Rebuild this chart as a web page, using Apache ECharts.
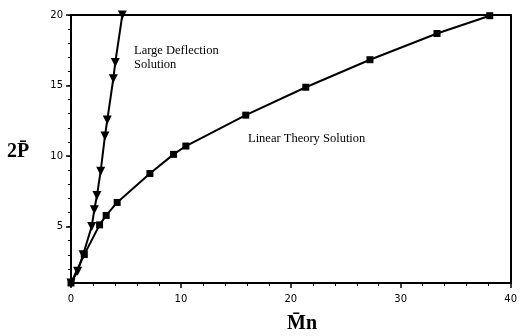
<!DOCTYPE html>
<html>
<head>
<meta charset="utf-8">
<script src="https://cdn.jsdelivr.net/npm/echarts@6/dist/echarts.min.js"></script>
<style>
  html, body { margin: 0; padding: 0; background: #fff; }
  #chart { width: 520px; height: 336px; }
</style>
</head>
<body>
<div id="chart"></div>
<script>
// Large Deflection Solution (triangles)
var largeX = [0, 0.6, 1.1, 1.88, 2.12, 2.36, 2.7, 3.09, 3.3, 3.85, 4.03, 4.67]
var largeY = [1, 1.84, 3.0, 5.0, 6.19, 7.2, 8.93, 11.43, 12.55, 15.48, 16.64, 20]
// Linear Theory Solution (squares)
var linearX = [0, 1.21, 2.6, 3.2, 4.2, 7.18, 9.33, 10.45, 15.9, 21.36, 27.2, 33.3, 38.1]
var linearY = [1, 3.02, 5.12, 5.79, 6.71, 8.76, 10.12, 10.71, 12.9, 14.88, 16.83, 18.69, 19.95]

var yMajor = [5, 10, 15, 20]

function pairs (xs, ys) {
  return xs.map(function (x, i) { return [x, ys[i]] })
}

var chart = echarts.init(document.getElementById('chart'))
var lineStyle = { color: '#000', width: 2 }
var labelFont = { color: '#000', fontFamily: 'DejaVu Sans', fontSize: 10 }
var titleFont = 'bold 20px "Liberation Serif"'
var noteFont = '12.5px "Liberation Serif"'

chart.setOption({
  animation: false,
  grid: { left: 71, right: 8, top: 15, bottom: 53 },
  xAxis: [{
    type: 'value',
    min: 0,
    max: 40,
    interval: 10,
    axisLine: { lineStyle: lineStyle },
    axisTick: { length: 5, lineStyle: { color: '#000', width: 1.5 } },
    minorTick: { show: true, splitNumber: 5, length: 3, lineStyle: { color: '#000' } },
    splitLine: { show: false },
    axisLabel: Object.assign({ margin: 11 }, labelFont)
  }, {
    type: 'value',
    position: 'top',
    min: 0,
    max: 40,
    axisLine: { lineStyle: lineStyle },
    axisTick: { show: false },
    axisLabel: { show: false },
    splitLine: { show: false }
  }],
  yAxis: [{
    type: 'value',
    min: 1,
    max: 20,
    axisLine: { lineStyle: lineStyle },
    axisTick: { length: 5, customValues: yMajor, lineStyle: { color: '#000', width: 1.5 } },
    axisLabel: Object.assign({ customValues: yMajor, margin: 8 }, labelFont),
    splitLine: { show: false }
  }, {
    type: 'value',
    position: 'left',
    min: 1,
    max: 20,
    interval: 1,
    axisLine: { show: true, lineStyle: lineStyle },
    axisTick: { show: true, length: 3, lineStyle: { color: '#000' } },
    axisLabel: { show: false },
    splitLine: { show: false }
  }, {
    type: 'value',
    position: 'right',
    min: 1,
    max: 20,
    axisLine: { show: true, lineStyle: lineStyle },
    axisTick: { show: false },
    axisLabel: { show: false },
    splitLine: { show: false }
  }],
  graphic: [{
    type: 'text',
    left: 134,
    top: 44,
    style: { text: 'Large Deflection\nSolution', fill: '#000', font: noteFont, lineHeight: 14 }
  }, {
    type: 'text',
    left: 248,
    top: 132,
    style: { text: 'Linear Theory Solution', fill: '#000', font: noteFont }
  }, {
    type: 'text',
    left: 7,
    top: 142,
    style: { text: '2P\u0304', fill: '#000', font: titleFont }
  }, {
    type: 'text',
    left: 287,
    top: 314,
    style: { text: 'M\u0304n', fill: '#000', font: titleFont }
  }],
  series: [{
    name: 'Large Deflection Solution',
    type: 'line',
    data: pairs(largeX, largeY),
    symbol: 'triangle',
    symbolRotate: 180,
    symbolSize: 9,
    itemStyle: { color: '#000' },
    lineStyle: lineStyle,
    z: 3
  }, {
    name: 'Linear Theory Solution',
    type: 'line',
    data: pairs(linearX, linearY),
    symbol: 'rect',
    symbolSize: 7,
    itemStyle: { color: '#000' },
    lineStyle: lineStyle,
    z: 4
  }]
})
</script>
</body>
</html>
